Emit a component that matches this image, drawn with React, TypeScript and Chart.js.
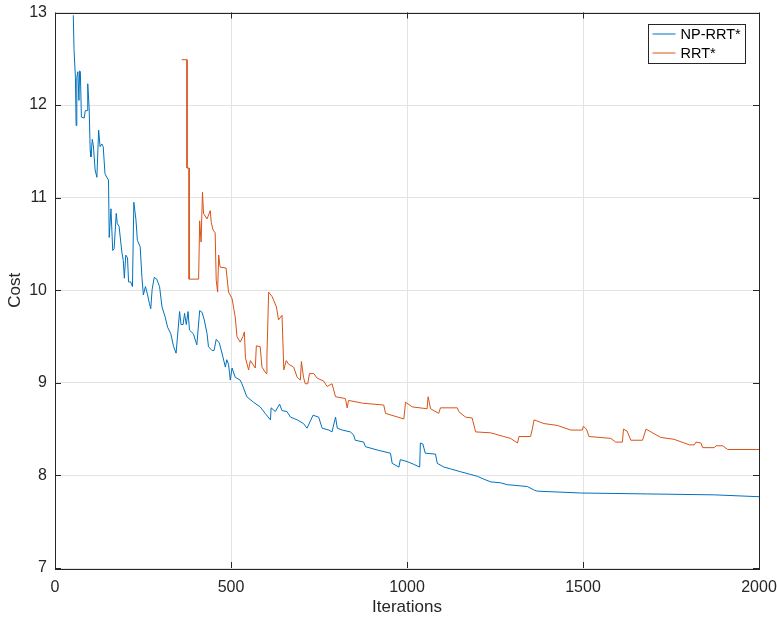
import React, { useEffect, useRef } from "react";
import { Chart, registerables } from "chart.js";

Chart.register(...registerables);

const npIter = [52, 54, 58, 60, 62, 65, 68, 70, 72, 75, 83, 86, 92, 93, 97, 100, 102, 106, 109, 114, 119, 124, 128, 133, 137, 142, 147, 152, 154, 159, 164, 168, 174, 177, 182, 190, 194, 197, 201, 206, 209, 215, 220, 224, 230, 234, 242, 247, 251, 257, 263, 268, 272, 276, 282, 289, 297, 304, 313, 320, 329, 337, 344, 354, 358, 364, 368, 373, 378, 382, 393, 403, 411, 418, 424, 432, 436, 446, 452, 458, 467, 477, 484, 488, 493, 498, 503, 512, 526, 531, 545, 564, 583, 597, 612, 614, 626, 638, 645, 659, 669, 688, 706, 716, 733, 749, 759, 778, 787, 797, 802, 816, 839, 848, 853, 877, 882, 920, 953, 958, 977, 981, 1000, 1019, 1036, 1038, 1045, 1052, 1081, 1086, 1105, 1124, 1152, 1181, 1200, 1218, 1238, 1266, 1285, 1342, 1362, 1370, 1494, 1683, 1873, 2000];
const npCost = [12.97, 12.6, 12.3, 11.78, 12.3, 12.36, 12.05, 12.37, 12.36, 11.87, 11.86, 11.94, 11.94, 12.23, 11.97, 11.51, 11.44, 11.63, 11.56, 11.3, 11.22, 11.73, 11.55, 11.58, 11.55, 11.26, 11.22, 11.19, 10.57, 10.88, 10.43, 10.45, 10.83, 10.72, 10.69, 10.41, 10.32, 10.13, 10.38, 10.35, 10.09, 10.09, 10.04, 10.95, 10.76, 10.54, 10.47, 10.14, 9.95, 10.04, 9.95, 9.86, 9.8, 10.01, 10.14, 10.12, 10.04, 9.82, 9.71, 9.6, 9.53, 9.39, 9.32, 9.77, 9.63, 9.63, 9.75, 9.63, 9.77, 9.57, 9.53, 9.41, 9.78, 9.76, 9.68, 9.53, 9.39, 9.35, 9.35, 9.47, 9.43, 9.28, 9.17, 9.25, 9.2, 9.03, 9.16, 9.06, 9.03, 8.99, 8.85, 8.79, 8.74, 8.67, 8.6, 8.73, 8.69, 8.77, 8.7, 8.69, 8.63, 8.6, 8.56, 8.51, 8.65, 8.63, 8.51, 8.49, 8.47, 8.63, 8.51, 8.49, 8.47, 8.44, 8.38, 8.36, 8.31, 8.27, 8.24, 8.13, 8.09, 8.17, 8.15, 8.12, 8.09, 8.35, 8.34, 8.24, 8.23, 8.13, 8.09, 8.07, 8.04, 8.01, 7.99, 7.96, 7.93, 7.92, 7.9, 7.88, 7.84, 7.83, 7.81, 7.8, 7.79, 7.77];

const rrtIter = [360, 375, 375, 381, 381, 408, 411, 415, 419, 422, 432, 441, 444, 449, 455, 458, 462, 465, 469, 486, 493, 503, 512, 517, 526, 534, 538, 541, 550, 555, 569, 572, 583, 588, 600, 602, 607, 617, 629, 635, 645, 650, 657, 664, 678, 688, 697, 700, 706, 711, 718, 723, 735, 745, 763, 773, 787, 797, 825, 830, 834, 874, 934, 939, 991, 996, 1015, 1057, 1060, 1067, 1090, 1095, 1143, 1147, 1166, 1185, 1195, 1238, 1275, 1294, 1314, 1318, 1351, 1356, 1361, 1389, 1427, 1465, 1498, 1501, 1510, 1517, 1579, 1593, 1612, 1615, 1625, 1636, 1669, 1679, 1693, 1721, 1759, 1802, 1816, 1821, 1835, 1840, 1873, 1878, 1897, 1911, 2000];
const rrtCost = [12.49, 12.49, 11.32, 11.32, 10.12, 10.12, 10.75, 10.52, 11.06, 10.83, 10.77, 10.86, 10.73, 10.65, 10.62, 10.11, 9.98, 10.38, 10.25, 10.24, 9.98, 9.91, 9.71, 9.5, 9.44, 9.5, 9.55, 9.27, 9.14, 9.24, 9.16, 9.4, 9.39, 9.17, 9.1, 9.28, 9.98, 9.93, 9.82, 9.68, 9.73, 9.14, 9.24, 9.2, 9.17, 9.06, 9.03, 9.23, 9.06, 8.99, 8.99, 9.1, 9.1, 9.05, 9.02, 8.96, 8.99, 8.85, 8.83, 8.73, 8.81, 8.78, 8.76, 8.67, 8.61, 8.79, 8.74, 8.72, 8.85, 8.72, 8.67, 8.73, 8.73, 8.69, 8.63, 8.62, 8.47, 8.46, 8.42, 8.4, 8.35, 8.42, 8.42, 8.5, 8.6, 8.56, 8.54, 8.49, 8.49, 8.53, 8.5, 8.42, 8.4, 8.36, 8.36, 8.5, 8.48, 8.38, 8.38, 8.5, 8.47, 8.41, 8.39, 8.33, 8.33, 8.36, 8.35, 8.3, 8.3, 8.32, 8.32, 8.28, 8.28];

const seriesNames = ["NP-RRT*", "RRT*"];
const xTicks = [0, 500, 1000, 1500, 2000];
const yTicks = [7, 8, 9, 10, 11, 12, 13];
const xTitle = "Iterations";
const yTitle = "Cost";

const FONT = "'Liberation Sans', Arial, Helvetica, sans-serif";
const AXIS = "#262626";

const boxPlugin = {
  id: "matlabBox",
  afterDraw(chart: any) {
    const { ctx, chartArea } = chart;
    const xs = chart.scales.x;
    const ys = chart.scales.y;
    const { left, right, top, bottom } = chartArea;
    ctx.save();
    ctx.strokeStyle = AXIS;
    ctx.lineWidth = 1;
    ctx.beginPath();
    xTicks.forEach((v) => {
      const px = Math.round(xs.getPixelForValue(v)) + 0.5;
      ctx.moveTo(px, bottom);
      ctx.lineTo(px, bottom - 6);
      ctx.moveTo(px, top);
      ctx.lineTo(px, top + 6);
    });
    yTicks.forEach((v) => {
      const py = Math.round(ys.getPixelForValue(v)) + 0.5;
      ctx.moveTo(left, py);
      ctx.lineTo(left + 6, py);
      ctx.moveTo(right, py);
      ctx.lineTo(right - 6, py);
    });
    ctx.stroke();
    ctx.strokeRect(Math.round(left) + 0.5, Math.round(top) + 0.5, Math.round(right - left), Math.round(bottom - top));

    const lx = 648.5, ly = 24.5, lw = 97, lh = 39;
    ctx.fillStyle = "#ffffff";
    ctx.fillRect(lx, ly, lw, lh);
    ctx.strokeStyle = AXIS;
    ctx.strokeRect(lx, ly, lw, lh);
    ctx.font = `14.5px ${FONT}`;
    ctx.textBaseline = "middle";
    ctx.textAlign = "left";
    chart.data.datasets.forEach((ds: any, i: number) => {
      const yy = ly + 9.5 + i * 19;
      ctx.strokeStyle = ds.borderColor;
      ctx.lineWidth = 1;
      ctx.beginPath();
      ctx.moveTo(lx + 4, yy);
      ctx.lineTo(lx + 27, yy);
      ctx.stroke();
      ctx.fillStyle = "#000000";
      ctx.fillText(ds.label, lx + 32, yy + 0.5);
    });
    ctx.restore();
  },
};

const zeroPad = (s: any) => {
  s.paddingLeft = 0;
  s.paddingRight = 0;
  s.paddingTop = 0;
  s.paddingBottom = 0;
};

export default function App() {
  const ref = useRef<HTMLCanvasElement | null>(null);
  useEffect(() => {
    if (!ref.current) return;
    const chart = new Chart(ref.current, {
      type: "line",
      data: {
        datasets: [
          {
            label: seriesNames[0],
            data: npIter.map((x, i) => ({ x, y: npCost[i] })),
            borderColor: "#0072BD",
            backgroundColor: "#0072BD",
            borderWidth: 1,
            pointRadius: 0,
            tension: 0,
          },
          {
            label: seriesNames[1],
            data: rrtIter.map((x, i) => ({ x, y: rrtCost[i] })),
            borderColor: "#D95319",
            backgroundColor: "#D95319",
            borderWidth: 1,
            pointRadius: 0,
            tension: 0,
          },
        ],
      },
      options: {
        animation: false,
        responsive: false,
        maintainAspectRatio: false,
        layout: { padding: { top: 12.5, right: 18, left: 0, bottom: 0 } },
        plugins: { legend: { display: false }, tooltip: { enabled: false } },
        scales: {
          x: {
            type: "linear",
            min: 0,
            max: 2000,
            afterBuildTicks: (s: any) => {
              s.ticks = xTicks.map((v) => ({ value: v }));
            },
            afterFit: (s: any) => {
              s.height = 51;
              zeroPad(s);
            },
            grid: { color: "#e3e3e3", drawTicks: false, lineWidth: 1 },
            border: { display: false },
            ticks: {
              color: AXIS,
              font: { family: FONT, size: 16 },
              padding: 10,
              maxRotation: 0,
              callback: (v: any) => String(v),
            },
            title: { display: true, text: xTitle, color: AXIS, font: { family: FONT, size: 17 }, padding: { top: 0, bottom: 1 } },
          },
          y: {
            type: "linear",
            min: 7,
            max: 13,
            afterBuildTicks: (s: any) => {
              s.ticks = yTicks.map((v) => ({ value: v }));
            },
            afterFit: (s: any) => {
              s.width = 55;
              zeroPad(s);
            },
            grid: { color: "#e3e3e3", drawTicks: false, lineWidth: 1 },
            border: { display: false },
            ticks: { color: AXIS, font: { family: FONT, size: 16 }, padding: 8, callback: (v: any) => String(v) },
            title: { display: true, text: yTitle, color: AXIS, font: { family: FONT, size: 17 }, padding: { top: 5, bottom: 0 } },
          },
        },
      },
      plugins: [boxPlugin],
    });
    return () => chart.destroy();
  }, []);
  return (
    <div style={{ position: "absolute", left: 0, top: 0, width: 777, height: 619, background: "#fff" }}>
      <canvas ref={ref} width={777} height={619} style={{ display: "block" }} />
    </div>
  );
}
